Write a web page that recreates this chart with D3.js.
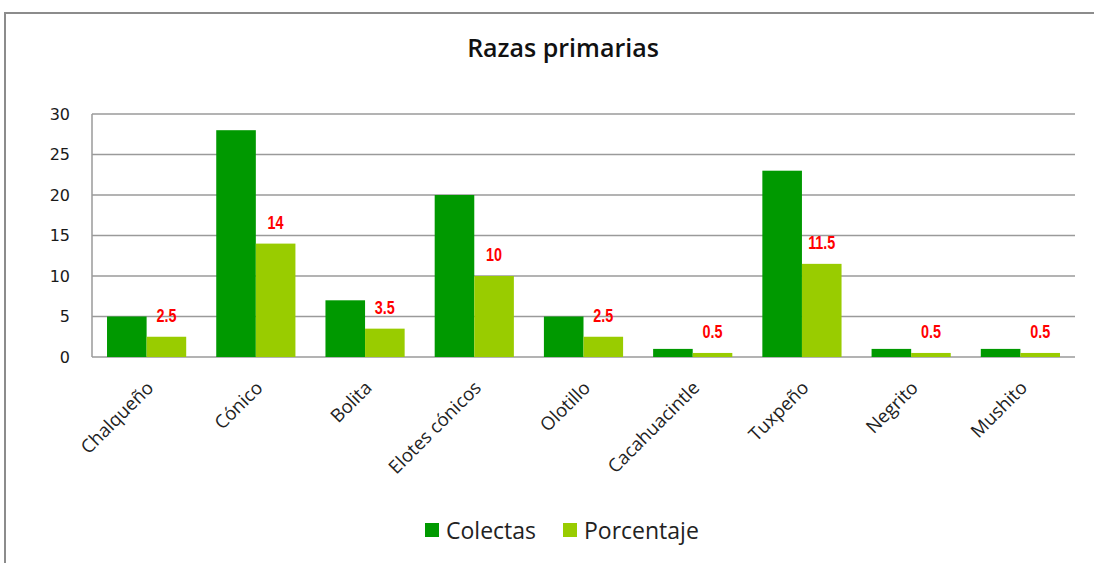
<!DOCTYPE html>
<html>
<head>
<meta charset="utf-8">
<title>Razas primarias</title>
<script src="https://cdn.jsdelivr.net/npm/d3@7"></script>
<style>
body {margin:0;background:#fff;}
svg {display:block;}
</style>
</head>
<body>
<svg id="chart" width="1094" height="563"></svg>
<script>
// datos
var razas = ["Chalqueño","Cónico","Bolita","Elotes cónicos","Olotillo","Cacahuacintle","Tuxpeño","Negrito","Mushito"];
var colectas = [5, 28, 7, 20, 5, 1, 23, 1, 1];
var porcentaje = [2.5, 14, 3.5, 10, 2.5, 0.5, 11.5, 0.5, 0.5];
var series = ["Colectas", "Porcentaje"];
var yTicks = [0, 5, 10, 15, 20, 25, 30];

var colores = {Colectas:"#009900", Porcentaje:"#99cc00"};

var svg = d3.select("#chart");

// marco exterior
svg.append("path").attr("d","M5,563 V13 H1094").attr("fill","none").attr("stroke","#8c8c8c").attr("stroke-width",2);

var pLeft = 92, pRight = 1075, pTop = 114, pBottom = 357;

var x = d3.scaleBand().domain(razas).range([pLeft, pRight]).paddingInner(0.275).paddingOuter(0.1375);
var xs = d3.scaleBand().domain(series).range([0, x.bandwidth()]);
var y = d3.scaleLinear().domain([0, 30]).range([pBottom, pTop]);

// rejilla
svg.append("g").selectAll("line").data(yTicks).enter().append("line")
    .attr("x1",pLeft).attr("x2",pRight)
    .attr("y1",function(d){return y(d)}).attr("y2",function(d){return y(d)})
    .attr("stroke","#9a9a9a").attr("stroke-width",1.5);
svg.append("line").attr("x1",pLeft).attr("x2",pLeft).attr("y1",pTop).attr("y2",pBottom)
    .attr("stroke","#9a9a9a").attr("stroke-width",1.5);

// eje y
var yAxis = d3.axisLeft(y).tickValues(yTicks).tickSize(0).tickPadding(22);
var gy = svg.append("g").attr("transform","translate("+pLeft+",0)").call(yAxis);
gy.select(".domain").remove();
gy.selectAll("text").attr("font-family","DejaVu Sans").attr("font-size",16).attr("fill","#1a1a1a");

// barras
var grupos = svg.append("g").selectAll("g").data(razas).enter().append("g")
    .attr("transform",function(d){return "translate("+x(d)+",0)"});

grupos.append("rect")
    .attr("x",xs("Colectas")).attr("width",xs.bandwidth())
    .attr("y",function(d,i){return y(colectas[i])})
    .attr("height",function(d,i){return pBottom - y(colectas[i])})
    .attr("fill",colores.Colectas);

grupos.append("rect")
    .attr("x",xs("Porcentaje")).attr("width",xs.bandwidth())
    .attr("y",function(d,i){return y(porcentaje[i])})
    .attr("height",function(d,i){return pBottom - y(porcentaje[i])})
    .attr("fill",colores.Porcentaje);

// etiquetas rojas (estrechas)
grupos.append("text")
    .attr("transform",function(d,i){return "translate("+(xs("Porcentaje") + xs.bandwidth()/2)+","+(y(porcentaje[i]) - 15)+") scale(0.8,1)"})
    .attr("text-anchor","middle")
    .attr("font-family","'Liberation Sans', Arial")
    .attr("font-weight","bold").attr("font-size",18).attr("fill","#ff0000")
    .text(function(d,i){return porcentaje[i]});

// categorias
svg.append("g").selectAll("text").data(razas).enter().append("text")
    .attr("transform",function(d){return "translate("+(x(d)+x.bandwidth()/2+8)+",389) rotate(-45)"})
    .attr("text-anchor","end")
    .attr("font-family","'Open Sans', sans-serif").attr("font-size",18.5).attr("fill","#222")
    .text(function(d){return d});

// titulo
svg.append("text").attr("x",563).attr("y",57).attr("text-anchor","middle")
    .attr("font-family","'Open Sans', sans-serif").attr("font-weight",600).attr("font-size",25)
    .attr("fill","#111").text("Razas primarias");

// leyenda
var ley = svg.append("g").selectAll("g").data(series).enter().append("g")
    .attr("transform",function(d,i){return "translate("+(i==0?425:563)+",0)"});
ley.append("rect").attr("x",0).attr("y",523).attr("width",14).attr("height",14)
    .attr("fill",function(d){return colores[d]});
ley.append("text").attr("x",21).attr("y",539)
    .attr("font-family","'Open Sans', sans-serif").attr("font-size",23).attr("fill","#222")
    .text(function(d){return d});
</script>
</body>
</html>
